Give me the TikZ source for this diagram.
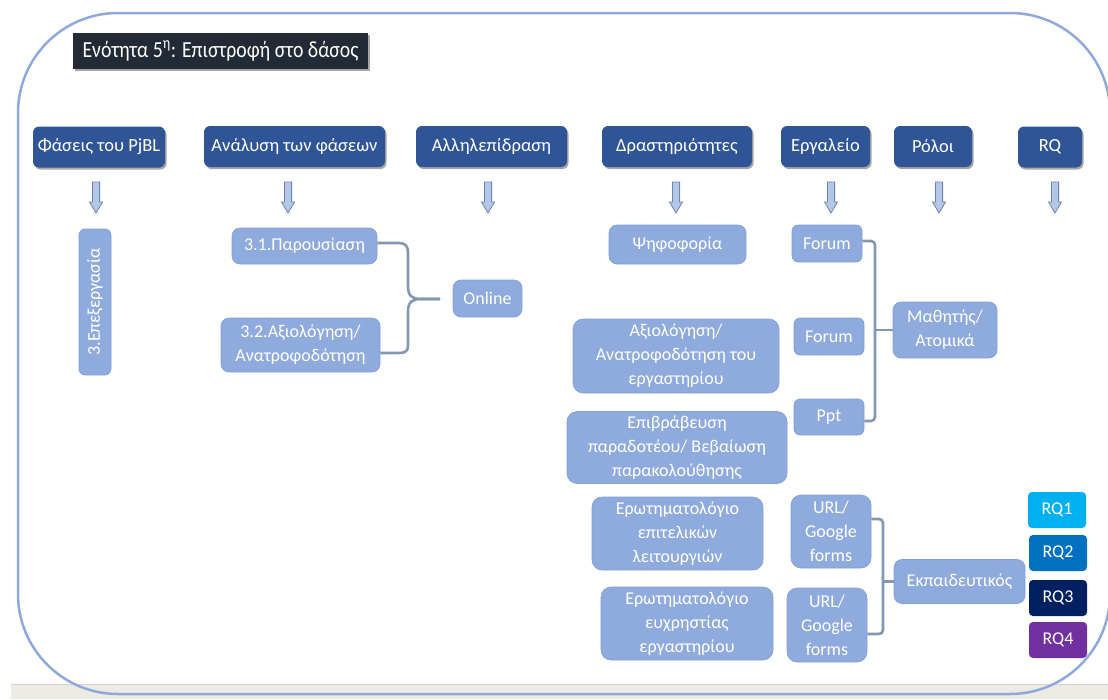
\documentclass[tikz,border=0pt]{standalone}
\usepackage{fontspec}
\setmainfont{Carlito}
\newfontfamily\titlefont{Carlito}[FakeStretch=0.86]
\usetikzlibrary{shadows,calc}

\definecolor{hdrblue}{HTML}{2F5597}
\definecolor{lightbox}{HTML}{8FAADC}
\definecolor{lightedge}{HTML}{7F9ED6}
\definecolor{framecol}{HTML}{8EAADB}
\definecolor{titlebg}{HTML}{222A35}
\definecolor{linkgray}{HTML}{8497B0}
\definecolor{arrfill}{HTML}{B4C7E7}
\definecolor{arredge}{HTML}{6B84B2}
\definecolor{bandgray}{HTML}{EEEBE7}
\definecolor{bandedge}{HTML}{D6D2CD}
\definecolor{rqone}{HTML}{00B0F0}
\definecolor{rqtwo}{HTML}{0070C0}
\definecolor{rqthree}{HTML}{002060}
\definecolor{rqfour}{HTML}{7030A0}

\begin{document}
\begin{tikzpicture}[x=1pt,y=-1pt,
  sz/.style 2 args={minimum width=#1pt, minimum height=#2pt},
  hdr/.style={fill=hdrblue, rounded corners=6pt, text=white, inner sep=0pt,
    font=\fontsize{18.5}{21}\selectfont,
    drop shadow={shadow xshift=1.5pt, shadow yshift=-2pt, fill=black, opacity=0.35}},
  titlebox/.style={fill=titlebg, text=white, inner sep=0pt,
    font=\titlefont\fontsize{23}{26}\selectfont,
    drop shadow={shadow xshift=2pt, shadow yshift=-2pt, fill=black, opacity=0.35}},
  lbox/.style={fill=lightbox, draw=lightedge, line width=0.6pt, rounded corners=8pt,
    text=white, inner sep=0pt, align=center, font=\fontsize{18}{24}\selectfont},
  rqbox/.style={rounded corners=4pt, text=white, inner sep=0pt,
    font=\fontsize{18}{21}\selectfont},
  link/.style={draw=linkgray, line width=2.6pt},
  dnarrow/.pic={\draw[fill=arrfill, draw=arredge, line width=0.8pt]
    (-3.6,0) -- (-3.6,20) -- (-6.5,20) -- (0,31) -- (6.5,20) -- (3.6,20) -- (3.6,0) -- cycle;}
]
\useasboundingbox (0,0) rectangle (1108,699);

% page band and outer frame
\fill[bandgray] (11,684) rectangle (1108,699);
\draw[bandedge, line width=1pt] (11,684.5) -- (1108,684.5);
\draw[framecol, line width=2.5pt, rounded corners=100pt] (18,13) rectangle (1110,694);

% title
\node[titlebox, sz={295}{36}] (title) at (220.5,51) {Ενότητα 5\textsuperscript{η}: Επιστροφή στο δάσος};

% column headers
\node[hdr, sz={132}{41}] (h1) at (99,147) {Φάσεις του PjBL};
\node[hdr, sz={181}{41}] (h2) at (294.5,146.5) {Ανάλυση των φάσεων};
\node[hdr, sz={151}{41}] (h3) at (491.5,146.5) {Αλληλεπίδραση};
\node[hdr, sz={150}{41}] (h4) at (677,146.5) {Δραστηριότητες};
\node[hdr, sz={89}{41}] (h5) at (825.5,146.5) {Εργαλείο};
\node[hdr, sz={78}{41}] (h6) at (933,146.5) {Ρόλοι};
\node[hdr, sz={64}{41}] (h7) at (1050,147) {RQ};

% down arrows under the headers
\pic (a1) at (96,182) {dnarrow};
\pic (a2) at (288,182) {dnarrow};
\pic (a3) at (488,182) {dnarrow};
\pic (a4) at (676,182) {dnarrow};
\pic (a5) at (831,182) {dnarrow};
\pic (a6) at (939,182) {dnarrow};
\pic (a7) at (1055,182) {dnarrow};

% phase
\node[lbox, rotate=90, sz={146}{32}, rounded corners=6pt] (e3) at (95,302) {3.Επεξεργασία};

% phase analysis
\node[lbox, sz={145}{36}] (n31) at (304.5,246) {3.1.Παρουσίαση};
\node[lbox, sz={159}{54}] (n32) at (300.5,345) {3.2.Αξιολόγηση/\\Ανατροφοδότηση};

% interaction
\node[lbox, sz={69}{37}] (onl) at (487.5,298.5) {Online};
\coordinate (btip) at (440,299);
\draw[link] ([yshift=3pt]n31.east) -- (399,243)
  .. controls (405,243) and (408,246) .. (408,252) -- (408,286)
  .. controls (408,296) and (412,299) .. (421,299) -- (btip);
\draw[link] (btip) -- (421,299)
  .. controls (412,299) and (408,302) .. (408,312) -- (408,346)
  .. controls (408,351) and (405,353) .. (399,353) -- ([yshift=-8pt]n32.east);

% activities
\node[lbox, sz={137}{39}] (v1) at (677.5,244.5) {Ψηφοφορία};
\node[lbox, sz={206}{74}, rounded corners=10pt] (v2) at (676,356) {Αξιολόγηση/\\Ανατροφοδότηση του\\εργαστηρίου};
\node[lbox, sz={220}{72}, rounded corners=10pt] (v3) at (677,447.5) {Επιβράβευση\\παραδοτέου/ Βεβαίωση\\παρακολούθησης};
\node[lbox, sz={171}{73}, rounded corners=10pt] (v4) at (677.5,533.5) {Ερωτηματολόγιο\\επιτελικών\\λειτουργιών};
\node[lbox, sz={172}{73}, rounded corners=10pt] (v5) at (687,623.5) {Ερωτηματολόγιο\\ευχρηστίας\\εργαστηρίου};

% tools
\node[lbox, sz={70}{37}, rounded corners=6pt] (f1) at (827,243.5) {Forum};
\node[lbox, sz={70}{37}, rounded corners=6pt] (f2) at (829,336.5) {Forum};
\node[lbox, sz={70}{36}, rounded corners=6pt] (ppt) at (829,417) {Ppt};
\node[lbox, sz={80}{73}, rounded corners=10pt] (u1) at (831,531.5) {URL/\\Google\\forms};
\node[lbox, sz={80}{74}, rounded corners=10pt] (u2) at (827,625) {URL/\\Google\\forms};

% roles
\node[lbox, sz={104}{56}] (mat) at (945,330) {Μαθητής/\\Ατομικά};
\node[lbox, sz={131}{44}] (ekp) at (959.5,581.5) {Εκπαιδευτικός};

\coordinate (mx) at (875,330);
\draw[link, rounded corners=4pt] ([yshift=2.5pt]f1.east) -| (mx) |- ([yshift=-4pt]ppt.east);
\draw[link] (mx) -- (mat.west);

\coordinate (ex) at (883,581.5);
\draw[link, rounded corners=4pt] ([yshift=12.5pt]u1.east) -| (ex) |- ([yshift=-9pt]u2.east);
\draw[link] (ex) -- (ekp.west);

% research questions
\node[rqbox, fill=rqone, sz={58}{36}] (rq1) at (1057,510) {RQ1};
\node[rqbox, fill=rqtwo, sz={58}{36}] (rq2) at (1058,553) {RQ2};
\node[rqbox, fill=rqthree, sz={58}{36}] (rq3) at (1058,598) {RQ3};
\node[rqbox, fill=rqfour, sz={58}{36}] (rq4) at (1058,640) {RQ4};
\end{tikzpicture}
\end{document}
